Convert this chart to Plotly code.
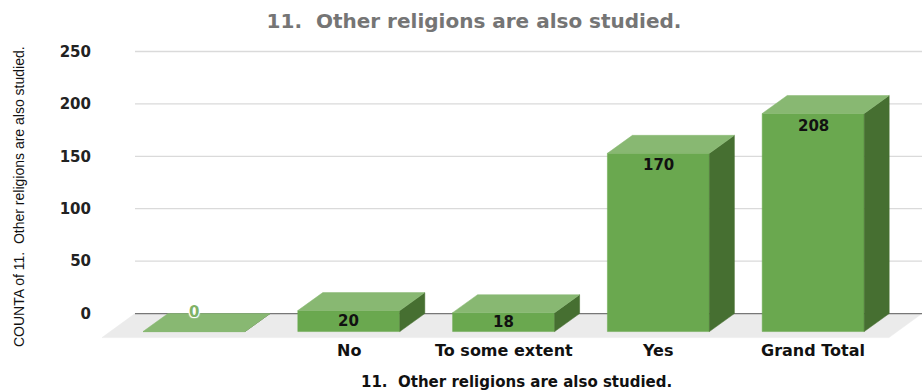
import plotly.graph_objects as go

# Survey answers and their counts
categories = ["", "No", "To some extent", "Yes", "Grand Total"]
counts = [0, 20, 18, 170, 208]
y_ticks = [0, 50, 100, 150, 200, 250]

chart_title = "11.  Other religions are also studied."
x_title = "11.  Other religions are also studied."
y_title = "COUNTA of 11.  Other religions are also studied."

# Canvas and plot-area geometry (pixels)
W, H = 923, 391
M_L, M_R, M_T, M_B = 95, 1, 41, 46
Y_RANGE = [-30, 260]
CAT_PX = 154.8          # spacing between category centres
FIRST_CAT_PX = 194      # x pixel of the first category centre

plot_w = W - M_L - M_R
plot_h = H - M_T - M_B
x_lo = (M_L - FIRST_CAT_PX) / CAT_PX
x_hi = x_lo + plot_w / CAT_PX
px_per_unit = plot_h / (Y_RANGE[1] - Y_RANGE[0])


def dx(px):
    return px / CAT_PX


def dy(px):
    return px / px_per_unit


def paper_y(px_from_top):
    return (H - M_B - px_from_top) / plot_h


def paper_x(px_from_left):
    return (px_from_left - M_L) / plot_w


# 3-D look: bars sit against the back wall and project toward the viewer
BAR_W = dx(102)
DEPTH_X, DEPTH_Y = dx(25), dy(18)
FLOOR_X, FLOOR_Y = dx(33), dy(24)
WALL_LEFT = x_lo + dx(40)

FRONT = "#6aa84f"
TOP = "#88b872"
SIDE = "#466f31"
FLOOR = "#ebebeb"
GRID = "#dadada"
BASE = "#777777"
INK = "#111111"

fig = go.Figure()


def face(xs, ys, color):
    fig.add_trace(go.Scatter(
        x=xs + [xs[0]], y=ys + [ys[0]], mode="lines", fill="toself",
        fillcolor=color, line=dict(color=color, width=0.5),
        hoverinfo="skip", showlegend=False))


# Back-wall gridlines
for t in y_ticks[1:]:
    fig.add_shape(type="line", layer="below", x0=WALL_LEFT, x1=x_hi, y0=t, y1=t,
                  line=dict(color=GRID, width=1.3))

# Floor
face([WALL_LEFT, x_hi, x_hi - FLOOR_X, WALL_LEFT - FLOOR_X],
     [0, 0, -FLOOR_Y, -FLOOR_Y], FLOOR)

# Baseline along the back edge of the floor
fig.add_trace(go.Scatter(x=[WALL_LEFT, x_hi], y=[0, 0], mode="lines",
                         line=dict(color=BASE, width=1.3),
                         hoverinfo="skip", showlegend=False))

# Bars: front, top and right-hand side faces
for i, v in enumerate(counts):
    l, r = i - BAR_W / 2, i + BAR_W / 2
    fb, ft = -DEPTH_Y, v - DEPTH_Y
    face([l, r, r, l], [fb, fb, ft, ft], FRONT)
    face([r, r + DEPTH_X, r + DEPTH_X, r], [fb, 0, v, ft], SIDE)
    face([l, r, r + DEPTH_X, l + DEPTH_X], [ft, ft, v, v], TOP)

# Value labels
label_font = dict(family="DejaVu Sans", size=15, color=INK, weight="bold")
for i, v in enumerate(counts):
    front_px = v * px_per_unit
    if v == 0:
        fig.add_annotation(x=i, y=v, text=str(v), showarrow=False, yshift=2,
                           font=dict(family="DejaVu Sans", size=15, color="#7fb266",
                                     weight="bold",
                                     shadow="1px 1px 1px white, -1px -1px 1px white, "
                                            "1px -1px 1px white, -1px 1px 1px white"))
    elif front_px > 30:
        fig.add_annotation(x=i, y=v - DEPTH_Y, text=str(v), showarrow=False,
                           yshift=-12, font=label_font)
    else:
        fig.add_annotation(x=i, y=v / 2 - DEPTH_Y, text=str(v), showarrow=False,
                           font=label_font)

# Category labels under the bars
cat_font = dict(family="DejaVu Sans", size=16, color=INK, weight="bold")
for i, name in enumerate(categories):
    if name:
        fig.add_annotation(x=i, xref="x", yref="paper", y=paper_y(351), text=name,
                           showarrow=False, xanchor="center", yanchor="middle",
                           font=cat_font)

# Axis titles
fig.add_annotation(xref="paper", yref="paper",
                   x=paper_x(516), y=paper_y(382),
                   text=x_title, showarrow=False, xanchor="center", yanchor="middle",
                   font=dict(family="DejaVu Sans", size=15, color=INK, weight="bold"))
fig.add_annotation(xref="paper", yref="paper",
                   x=paper_x(19), y=paper_y(197),
                   text=y_title, showarrow=False, textangle=-90,
                   xanchor="center", yanchor="middle",
                   font=dict(family="Liberation Sans", size=14, color=INK))

fig.update_layout(
    width=W, height=H,
    margin=dict(l=M_L, r=M_R, t=M_T, b=M_B, pad=0),
    paper_bgcolor="white", plot_bgcolor="white",
    title=dict(text=chart_title, xref="container", yref="container",
               x=474 / W, y=1 - 21 / H, xanchor="center", yanchor="middle",
               font=dict(family="DejaVu Sans", size=20, color="#757575", weight="bold")),
    xaxis=dict(range=[x_lo, x_hi], showticklabels=False, showgrid=False,
               zeroline=False, showline=False, ticks="", fixedrange=True),
    yaxis=dict(range=Y_RANGE, tickmode="array", tickvals=y_ticks,
               showgrid=False, zeroline=False, showline=False, ticks="", fixedrange=True,
               ticklabelstandoff=3,
               tickfont=dict(family="DejaVu Sans", size=15, color="#222222", weight="bold")),
    showlegend=False,
)

fig.write_html("out.html")
